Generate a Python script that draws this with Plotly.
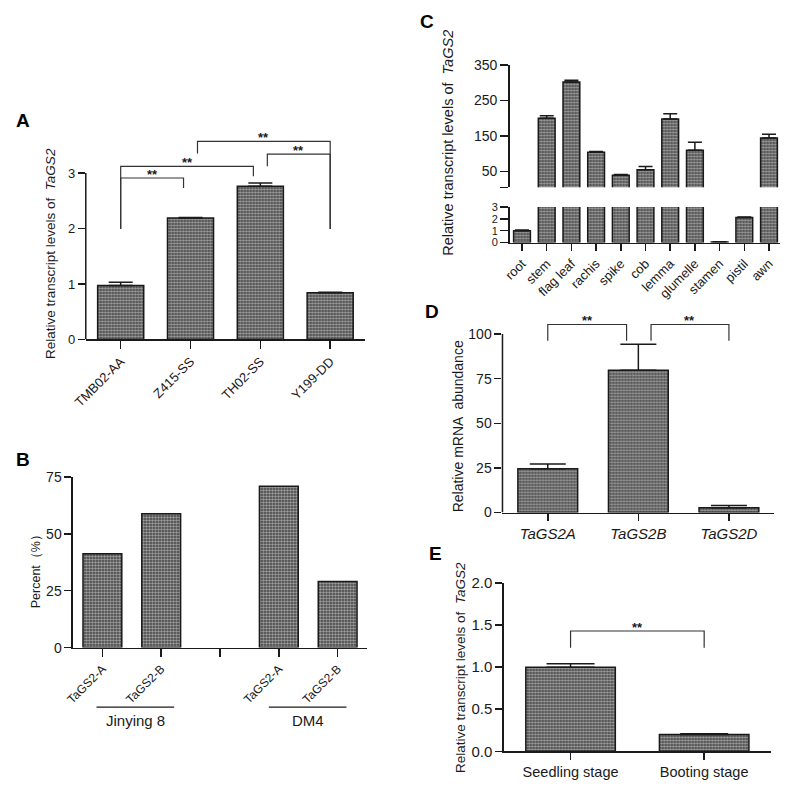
import plotly.graph_objects as go

# ---------------- data ----------------
a_categories = ["TMB02-AA", "Z415-SS", "TH02-SS", "Y199-DD"]
a_values = [0.97, 2.19, 2.76, 0.84]
a_errors = [0.06, 0.01, 0.06, 0.01]
a_yticks = [0, 1, 2, 3]

b_ticktext = ["TaGS2-A", "TaGS2-B", "", "TaGS2-A", "TaGS2-B"]
b_values = [41.2, 58.8, None, 70.9, 29.1]
b_yticks = [0, 25, 50, 75]
b_groups = ["Jinying 8", "DM4"]

c_categories = ["root", "stem", "flag leaf", "rachis", "spike", "cob",
                "lemma", "glumelle", "stamen", "pistil", "awn"]
c_values = [1.0, 200, 302, 104, 39, 55, 198, 110, 0.05, 2.1, 144]
c_errors = [0.05, 7, 5, 2, 2, 9, 15, 22, 0.01, 0.06, 11]
c_break_low = 3      # top of the lower segment
c_break_high = 5     # bottom of the upper segment
c_upper_ticks = [5, 50, 150, 250, 350]
c_upper_ticktext = ["", "50", "150", "250", "350"]
c_lower_ticks = [0, 1, 2, 3]

d_categories = ["TaGS2A", "TaGS2B", "TaGS2D"]
d_values = [24.5, 79.7, 2.7]
d_errors = [2.7, 14.6, 1.3]
d_yticks = [0, 25, 50, 75, 100]

e_categories = ["Seedling stage", "Booting stage"]
e_values = [1.0, 0.2]
e_errors = [0.04, 0.01]
e_yticks = [0.0, 0.5, 1.0, 1.5, 2.0]

# significance brackets: (left leg x, right leg x, bar y, left leg bottom, right leg bottom)
a_brackets = [(0, 0.9, 2.91, 1.99, 2.73), (0, 1.9, 3.12, 1.99, 2.94),
              (1.1, 3, 3.57, 3.35, 1.99), (2.1, 3, 3.34, 3.12, 1.99)]
d_brackets = [(0, 0.87, 105.4, 96.3, 96.3), (1.14, 2, 105.4, 96.3, 96.3)]
e_brackets = [(0, 1, 1.43, 1.23, 1.23)]

# ---------------- styling ----------------
W = H = 787
FONT = "Arial, 'Liberation Sans', sans-serif"
INK = "#1a1a1a"
LINE_W = 1.5


def xd(a, b):
    return [a / W, b / W]


def yd(top, bottom):
    return [1 - bottom / H, 1 - top / H]


bar_marker = dict(
    color="#3a3a3a",
    line=dict(color=INK, width=LINE_W),
    pattern=dict(shape=".", fgcolor="white", bgcolor="#3a3a3a", size=3, solidity=0.6),
)


def err(vals, width):
    return dict(type="data", array=vals, arrayminus=[0] * len(vals), symmetric=False,
                color=INK, thickness=LINE_W, width=width)


fig = go.Figure()

# Panel A
fig.add_trace(go.Bar(x=list(range(len(a_categories))), y=a_values, width=0.66,
                     marker=bar_marker, error_y=err(a_errors, 12),
                     xaxis="x", yaxis="y"))
# Panel B
fig.add_trace(go.Bar(x=list(range(len(b_ticktext))), y=b_values, width=0.66,
                     marker=bar_marker, xaxis="x2", yaxis="y2"))
# Panel C (broken axis: upper and lower segments)
c_upper_vals = [v if v > c_break_high else None for v in c_values]
c_lower_errs = [e if v <= c_break_low else 0 for v, e in zip(c_values, c_errors)]
fig.add_trace(go.Bar(x=list(range(len(c_categories))), y=c_upper_vals, width=0.68,
                     marker=bar_marker, error_y=err(c_errors, 7),
                     xaxis="x3", yaxis="y3"))
fig.add_trace(go.Bar(x=list(range(len(c_categories))), y=c_values, width=0.68,
                     marker=bar_marker, error_y=err(c_lower_errs, 7),
                     xaxis="x3", yaxis="y4"))
# Panel D
fig.add_trace(go.Bar(x=list(range(len(d_categories))), y=d_values, width=0.66,
                     marker=bar_marker, error_y=err(d_errors, 18),
                     xaxis="x4", yaxis="y5"))
# Panel E
fig.add_trace(go.Bar(x=list(range(len(e_categories))), y=e_values, width=0.67,
                     marker=bar_marker, error_y=err(e_errors, 24),
                     xaxis="x5", yaxis="y6"))

axis_common = dict(showgrid=False, zeroline=False, linecolor=INK, linewidth=LINE_W,
                   ticks="outside", tickcolor=INK, tickwidth=LINE_W, ticklen=7,
                   color=INK, fixedrange=True)

layout = dict(
    width=W, height=H, margin=dict(l=0, r=0, t=0, b=0),
    paper_bgcolor="white", plot_bgcolor="rgba(0,0,0,0)",
    showlegend=False, font=dict(family=FONT, color=INK, size=13),
    bargap=0, hovermode=False,
)

# A axes
layout["xaxis"] = dict(axis_common, domain=xd(74, 358), range=[-0.5, 3.5], anchor="y",
                       tickvals=list(range(len(a_categories))), ticktext=a_categories,
                       tickangle=-45, tickfont=dict(size=13), showline=True, ticklen=8)
layout["yaxis"] = dict(axis_common, domain=yd(130.8, 337.7), range=[0, 3.65], anchor="x",
                       tickvals=a_yticks, tickfont=dict(size=13), showline=False)
# B axes
layout["xaxis2"] = dict(axis_common, domain=xd(61, 360), range=[-0.5, 4.5], anchor="y2",
                        tickvals=list(range(len(b_ticktext))), ticktext=b_ticktext,
                        tickangle=-45, tickfont=dict(size=12), showline=True, ticklen=8)
layout["yaxis2"] = dict(axis_common, domain=yd(478.3, 652.7), range=[0, 75], anchor="x2",
                        tickvals=b_yticks, tickfont=dict(size=14), showline=True)
# C axes
layout["xaxis3"] = dict(axis_common, domain=xd(505, 780), range=[-0.5, 10.45], anchor="y4",
                        tickvals=list(range(len(c_categories))), ticktext=c_categories,
                        tickangle=-45, tickfont=dict(size=13), showline=True, ticklen=7)
layout["yaxis3"] = dict(axis_common, domain=yd(57.3, 182.3),
                        range=[c_break_high, c_upper_ticks[-1]], anchor="x3",
                        tickvals=c_upper_ticks, ticktext=c_upper_ticktext,
                        tickfont=dict(size=14), showline=True, ticklen=8)
layout["yaxis4"] = dict(axis_common, domain=yd(202.3, 238.7), range=[0, c_break_low],
                        anchor="x3", tickvals=c_lower_ticks, tickfont=dict(size=11),
                        showline=True, ticklen=8)
# D axes
layout["xaxis4"] = dict(axis_common, domain=xd(497.7, 774), range=[-0.5, 2.5], anchor="y5",
                        tickvals=list(range(len(d_categories))),
                        ticktext=["<i>%s</i>" % c for c in d_categories],
                        tickfont=dict(size=15), showline=True)
layout["yaxis5"] = dict(axis_common, domain=yd(317.7, 514.7), range=[0, 108], anchor="x4",
                        tickvals=d_yticks, tickfont=dict(size=14), showline=False)
# E axes
layout["xaxis5"] = dict(axis_common, domain=xd(499, 770.7), range=[-0.5, 1.5], anchor="y6",
                        tickvals=list(range(len(e_categories))), ticktext=e_categories,
                        tickfont=dict(size=14.5), showline=True, ticklen=7)
layout["yaxis6"] = dict(axis_common, domain=yd(586.7, 758.7), range=[0, 2], anchor="x5",
                        tickvals=e_yticks, tickformat=".1f", tickfont=dict(size=15),
                        showline=True)

fig.update_layout(**layout)

shapes = []
annotations = []
line_style = dict(color=INK, width=LINE_W)

# y-axis lines drawn only up to the top tick (A and D)
shapes.append(dict(type="line", xref="x domain", yref="y", x0=0, x1=0,
                   y0=a_yticks[0], y1=a_yticks[-1], line=line_style))
shapes.append(dict(type="line", xref="x4 domain", yref="y5", x0=0, x1=0,
                   y0=d_yticks[0], y1=d_yticks[-1], line=line_style))


def add_brackets(brackets, xref, yref):
    for (xl, xr, yb, yl, yr) in brackets:
        shapes.append(dict(type="path", xref=xref, yref=yref,
                           path=f"M{xl},{yl} L{xl},{yb} L{xr},{yb} L{xr},{yr}",
                           line=dict(color="#333", width=1.2)))
        annotations.append(dict(xref=xref, yref=yref, x=(xl + xr) / 2, y=yb,
                                text="<b>**</b>", showarrow=False, yanchor="bottom",
                                yshift=-6, font=dict(size=13, color=INK)))


add_brackets(a_brackets, "x", "y")
add_brackets(d_brackets, "x4", "y5")
add_brackets(e_brackets, "x5", "y6")

# group lines and labels under panel B
b_group_spans = [(-0.1, 1.22), (2.83, 4.15)]
for name, (g0, g1) in zip(b_groups, b_group_spans):
    shapes.append(dict(type="line", xref="x2", yref="paper", x0=g0, x1=g1,
                       y0=1 - 713.5 / H, y1=1 - 713.5 / H, line=dict(color=INK, width=1.2)))
    annotations.append(dict(xref="x2", yref="paper", x=(g0 + g1) / 2, y=1 - 727 / H,
                            text=name, showarrow=False, font=dict(size=15, color=INK),
                            xanchor="center", yanchor="middle"))

# axis titles
titles = [
    ("Relative transcript levels of  <i>TaGS2</i>", 38, 250, 13.5),
    ("Percent（%）", 23, 572, 12.5),
    ("Relative transcript levels of  <i>TaGS2</i>", 442, 137, 14.5),
    ("Relative mRNA  abundance", 452, 427, 14),
    ("Relative transcript levels of  <i>TaGS2</i>", 455, 673, 13.5),
]
for text, px, py, fs in titles:
    annotations.append(dict(xref="paper", yref="paper", x=px / W, y=1 - py / H, text=text,
                            textangle=-90, showarrow=False, xanchor="center",
                            yanchor="middle", font=dict(size=fs, color=INK)))

# panel letters
letters = [("A", 10, 114), ("B", 10, 460), ("C", 421, 13), ("D", 426, 309), ("E", 430, 557)]
for text, px, py in letters:
    annotations.append(dict(xref="paper", yref="paper", x=px / W, y=1 - py / H,
                            text=f"<b>{text}</b>", showarrow=False, xanchor="center",
                            yanchor="middle", font=dict(size=19, color="#000")))

fig.update_layout(shapes=shapes, annotations=annotations)
fig.write_html("out.html", config={"displayModeBar": False, "staticPlot": True},
               post_script="document.body.style.margin='0';document.body.style.padding='0';")
